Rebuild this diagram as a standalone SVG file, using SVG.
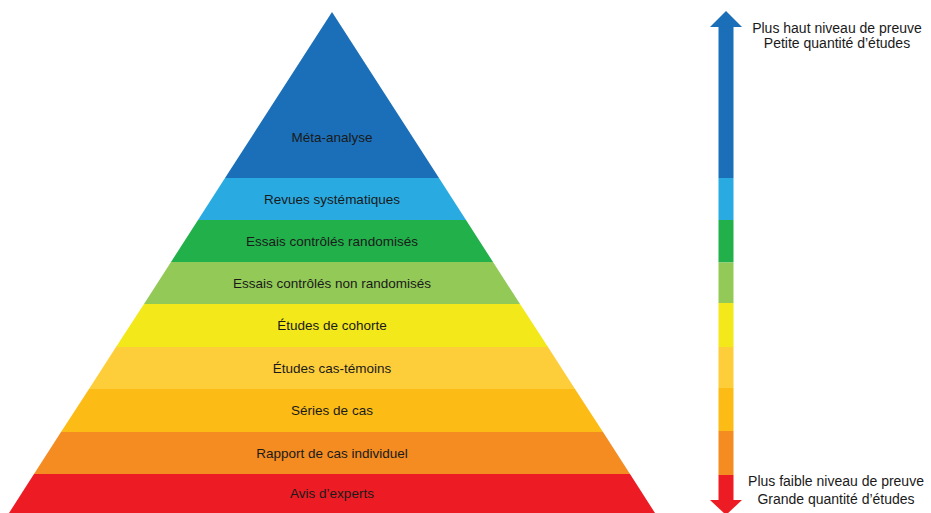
<svg xmlns="http://www.w3.org/2000/svg" width="931" height="513" viewBox="0 0 931 513">
<style>
.lbl{font-family:"Liberation Sans",Arial,sans-serif;font-size:13.5px;fill:#1a1a1a;text-anchor:middle}
.side{font-family:"Liberation Sans",Arial,sans-serif;font-size:14px;fill:#1a1a1a;text-anchor:middle}
</style>
<rect width="931" height="513" fill="#ffffff"/>
<g id="pyramid">
<g id="meta"><polygon points="332,12 439,178 225,178" fill="#1A6FB8"/><text class="lbl" x="332" y="142">Méta-analyse</text></g>
<g id="revues"><polygon points="225,178 439,178 466,220 198,220" fill="#29ABE2"/><text class="lbl" x="332" y="204">Revues systématiques</text></g>
<g id="ecr"><polygon points="198,220 466,220 493,262 171,262" fill="#22B04B"/><text class="lbl" x="332" y="246">Essais contrôlés randomisés</text></g>
<g id="ecnr"><polygon points="171,262 493,262 520,304 144,304" fill="#92C957"/><text class="lbl" x="332" y="288">Essais contrôlés non randomisés</text></g>
<g id="cohorte"><polygon points="144,304 520,304 548,347 116,347" fill="#F2E81A"/><text class="lbl" x="332" y="330">Études de cohorte</text></g>
<g id="castemoins"><polygon points="116,347 548,347 575,389 89,389" fill="#FECE3A"/><text class="lbl" x="332" y="373">Études cas-témoins</text></g>
<g id="series"><polygon points="89,389 575,389 603,432 61,432" fill="#FCBC15"/><text class="lbl" x="332" y="415">Séries de cas</text></g>
<g id="rapport"><polygon points="61,432 603,432 630,474 34,474" fill="#F48C21"/><text class="lbl" x="332" y="458">Rapport de cas individuel</text></g>
<g id="avis"><polygon points="34,474 630,474 655,513 9,513" fill="#ED1C24"/><text class="lbl" x="332" y="498">Avis d’experts</text></g>
</g>
<g id="connectors">
<polygon points="726,11 742,27 710,27" fill="#1A6FB8"/>
<rect x="718.5" y="26.5" width="15" height="151.5" fill="#1A6FB8"/>
<rect x="718.5" y="178" width="15" height="42" fill="#29ABE2"/>
<rect x="718.5" y="220" width="15" height="42.5" fill="#22B04B"/>
<rect x="718.5" y="262.5" width="15" height="40.5" fill="#92C957"/>
<rect x="718.5" y="303" width="15" height="44" fill="#F2E81A"/>
<rect x="718.5" y="347" width="15" height="41" fill="#FECE3A"/>
<rect x="718.5" y="388" width="15" height="43" fill="#FCBC15"/>
<rect x="718.5" y="431" width="15" height="44" fill="#F48C21"/>
<rect x="718.5" y="475" width="15" height="25.5" fill="#ED1C24"/>
<polygon points="710,500 742,500 726,515" fill="#ED1C24"/>
</g>
<g id="top-label"><text class="side" x="837" y="33">Plus haut niveau de preuve</text><text class="side" x="837" y="48">Petite quantité d’études</text></g>
<g id="bottom-label"><text class="side" x="836" y="486">Plus faible niveau de preuve</text><text class="side" x="836" y="504">Grande quantité d’études</text></g>
</svg>
